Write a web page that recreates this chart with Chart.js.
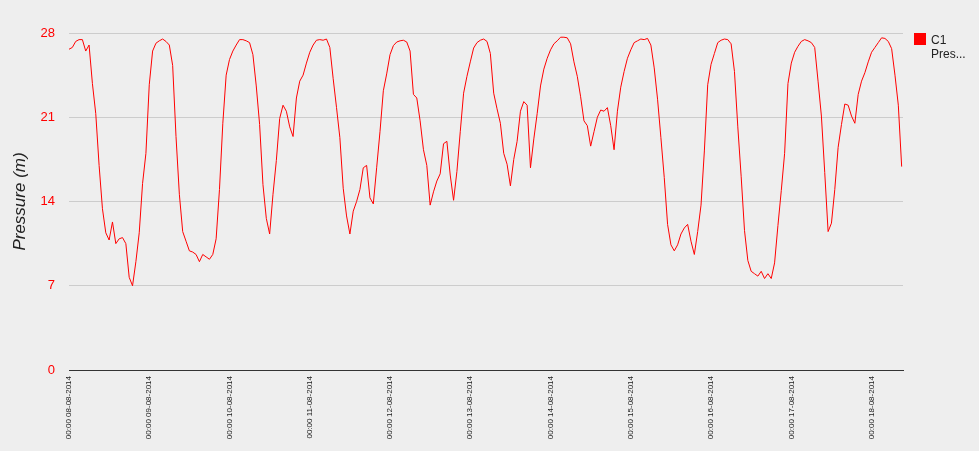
<!DOCTYPE html>
<html>
<head>
<meta charset="utf-8">
<script src="https://cdn.jsdelivr.net/npm/chart.js@4.4.0/dist/chart.umd.min.js"></script>
<style>
html,body{margin:0;padding:0;background:#eeeeee;}
#wrap{width:979px;height:451px;}
</style>
</head>
<body>
<div id="wrap"><canvas id="c" width="979" height="451"></canvas></div>
<script>
// ---- data (hourly readings, one array per day) ----
const dayLabels = ['00:00 08-08-2014','00:00 09-08-2014','00:00 10-08-2014','00:00 11-08-2014','00:00 12-08-2014','00:00 13-08-2014','00:00 14-08-2014','00:00 15-08-2014','00:00 16-08-2014','00:00 17-08-2014','00:00 18-08-2014'];
const yTicks = [0, 7, 14, 21, 28];
const seriesName = 'C1 Pressure';
const legendLines = ['C1', 'Pres...'];

const day08 = [26.65,26.8,27.3,27.45,27.45,26.5,27.0,23.8,21.3,17.0,13.4,11.4,10.8,12.3,10.5,10.9,11.0,10.5,7.7,7.0,9.0,11.4,15.5,18.0];
const day09 = [23.7,26.5,27.15,27.35,27.5,27.3,27.0,25.3,19.4,14.6,11.5,10.7,9.9,9.8,9.6,9.0,9.6,9.4,9.2,9.6,10.9,15.0,20.5,24.5];
const day10 = [25.8,26.5,27.0,27.45,27.45,27.35,27.2,26.2,23.6,20.4,15.4,12.6,11.3,14.6,17.4,20.9,22.0,21.5,20.2,19.4,22.6,24.0,24.5,25.5];
const day11 = [26.4,27.0,27.4,27.45,27.4,27.5,26.8,24.2,21.8,19.3,15.1,12.8,11.3,13.2,14.0,15.0,16.8,17.0,14.3,13.8,16.8,19.8,23.2,24.6];
const day12 = [26.2,26.95,27.25,27.35,27.4,27.25,26.5,22.9,22.6,20.7,18.3,17.0,13.7,14.8,15.7,16.3,18.8,19.0,16.2,14.1,16.5,19.8,23.0,24.4];
const day13 = [25.6,26.75,27.2,27.4,27.5,27.3,26.3,23.0,21.7,20.5,18.0,17.1,15.3,17.5,19.0,21.5,22.3,22.0,16.8,19.2,21.3,23.6,25.0,25.9];
const day14 = [26.6,27.1,27.35,27.65,27.65,27.6,27.1,25.6,24.4,22.7,20.7,20.3,18.6,19.8,21.0,21.6,21.5,21.8,20.3,18.3,21.5,23.5,24.8,25.9];
const day15 = [26.6,27.2,27.35,27.5,27.45,27.55,27.0,25.1,22.5,19.3,16.0,12.1,10.4,9.9,10.4,11.3,11.8,12.1,10.7,9.6,11.5,13.7,18.2,23.7];
const day16 = [25.4,26.3,27.2,27.4,27.5,27.45,27.1,24.8,20.2,16.1,11.6,9.1,8.2,8.0,7.8,8.2,7.6,8.0,7.6,8.9,12.0,14.9,18.0,23.8];
const day17 = [25.5,26.4,26.9,27.3,27.45,27.35,27.2,26.8,24.0,21.1,16.4,11.5,12.2,15.0,18.5,20.4,22.1,22.0,21.1,20.5,22.9,24.0,24.7,25.6];
const day18 = [26.4,26.8,27.2,27.6,27.55,27.3,26.7,24.5,22.0,16.9];

const pressure = [].concat(day08, day09, day10, day11, day12, day13, day14, day15, day16, day17, day18);
const points = pressure.map((v, i) => ({x: i, y: v}));

const FAMILY = '"Liberation Sans", Arial, sans-serif';

const sideLegend = {
  id: 'sideLegend',
  afterDraw(chart) {
    const ctx = chart.ctx, a = chart.chartArea;
    ctx.save();
    ctx.fillStyle = '#ff0000';
    ctx.fillRect(a.right + 11, a.top, 12, 12);
    ctx.fillStyle = '#222222';
    ctx.font = '12px ' + FAMILY;
    ctx.textBaseline = 'alphabetic';
    ctx.textAlign = 'left';
    legendLines.forEach((t, i) => ctx.fillText(t, a.right + 28, a.top + 11 + i * 14));
    ctx.restore();
  }
};

new Chart(document.getElementById('c'), {
  type: 'line',
  data: {
    datasets: [{
      label: seriesName,
      data: points,
      borderColor: '#ff0000',
      borderWidth: 1,
      pointRadius: 0,
      tension: 0,
      fill: false
    }]
  },
  options: {
    responsive: false,
    animation: false,
    devicePixelRatio: 1,
    layout: {padding: {top: 33, right: 76, left: 0, bottom: 0}},
    plugins: {legend: {display: false}, tooltip: {enabled: false}},
    scales: {
      x: {
        type: 'linear',
        min: 0,
        max: 249.4,
        afterBuildTicks: s => { s.ticks = dayLabels.map((l, i) => ({value: i * 24})); },
        afterFit: s => { s.height = 81; },
        grid: {display: false, drawTicks: false},
        border: {display: true, color: '#333333', width: 1},
        ticks: {
          autoSkip: false, maxRotation: 90, minRotation: 90, padding: 6,
          color: '#222222', font: {size: 8, family: FAMILY},
          callback: (v, i) => dayLabels[i]
        }
      },
      y: {
        min: 0,
        max: 28,
        afterBuildTicks: s => { s.ticks = yTicks.map(v => ({value: v})); },
        afterFit: s => { s.width = 69; },
        grid: {
          color: c => (c.tick && c.tick.value === 0) ? '#333333' : '#cccccc',
          drawTicks: false
        },
        border: {display: false},
        ticks: {color: '#ff0000', font: {size: 13, family: FAMILY}, padding: 14},
        title: {
          display: true, text: 'Pressure (m)', color: '#222222',
          font: {size: 17, style: 'italic', family: FAMILY},
          padding: {top: 10, bottom: 0}
        }
      }
    }
  },
  plugins: [sideLegend]
});
</script>
</body>
</html>
